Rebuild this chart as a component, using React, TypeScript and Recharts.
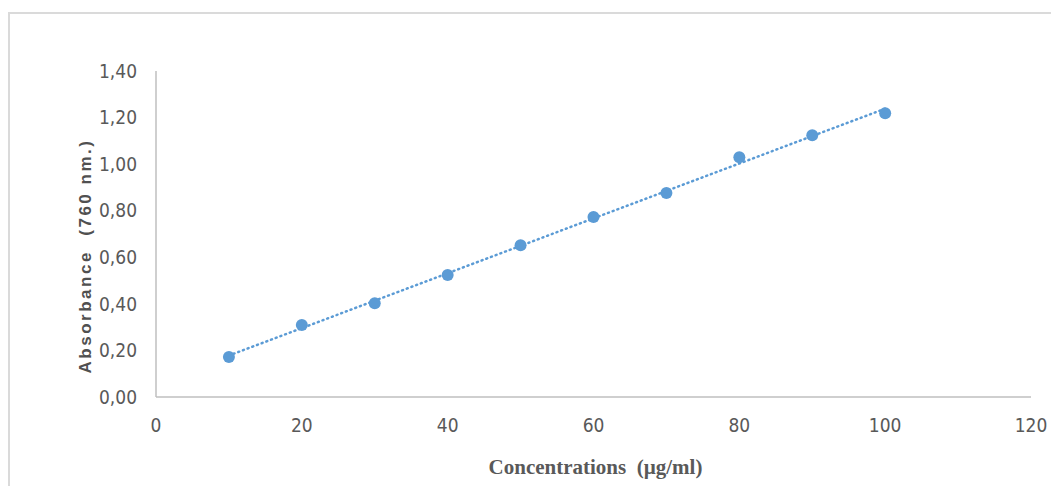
import React from 'react';
import { ComposedChart, Scatter, XAxis, YAxis, ReferenceLine, Label } from 'recharts';

const concentrations = [10, 20, 30, 40, 50, 60, 70, 80, 90, 100];
const absorbance = [0.172, 0.309, 0.403, 0.524, 0.652, 0.773, 0.876, 1.03, 1.124, 1.219];
const xTicks = [0, 20, 40, 60, 80, 100, 120];
const yTicks = [0, 0.2, 0.4, 0.6, 0.8, 1.0, 1.2, 1.4];
const xTitle = 'Concentrations  (µg/ml)';
const yTitle = 'Absorbance  (760 nm.)';

const points = concentrations.map((x, i) => ({ x, y: absorbance[i] }));

// least-squares trendline derived from the data
const n = concentrations.length;
const mx = concentrations.reduce((a, b) => a + b, 0) / n;
const my = absorbance.reduce((a, b) => a + b, 0) / n;
let sxy = 0, sxx = 0;
for (let i = 0; i < n; i++) {
  sxy += (concentrations[i] - mx) * (absorbance[i] - my);
  sxx += (concentrations[i] - mx) ** 2;
}
const slope = sxy / sxx;
const intercept = my - slope * mx;
const x0 = concentrations[0];
const x1 = concentrations[n - 1];
const trend = [
  { x: x0, y: intercept + slope * x0 },
  { x: x1, y: intercept + slope * x1 },
];

const BLUE = '#5B9BD5';
const TICK_FONT = "'Liberation Sans Narrow', 'DejaVu Sans Condensed', 'Liberation Sans', sans-serif";

export default function App() {
  return (
    <div style={{ position: 'relative', width: 1051, height: 478 }}>
      <div
        style={{
          position: 'absolute',
          left: 0,
          top: 4,
          width: 1051,
          height: 474,
          borderTop: '2px solid #DADADA',
          borderLeft: '2px solid #DADADA',
          boxSizing: 'border-box',
        }}
      />
      <ComposedChart
        width={1051}
        height={478}
        margin={{ top: 63, right: 28, left: 88, bottom: 59 }}
        style={{ position: 'absolute', left: 0, top: 0 }}
      >
        <XAxis
          type="number"
          dataKey="x"
          domain={[0, 120]}
          ticks={xTicks}
          height={30}
          stroke="#BFBFBF"
          strokeWidth={1.5}
          tickLine={false}
          tickSize={0}
          tickMargin={22}
          tick={{ fill: '#595959', fontSize: 19, fontFamily: TICK_FONT }}
        >
          <Label
            content={(props: any) => {
              const vb = props.viewBox;
              return (
                <text
                  x={vb.x + vb.width / 2 + 2}
                  y={466}
                  textAnchor="middle"
                  fill="#595959"
                  fontSize={21}
                  fontWeight="bold"
                  fontFamily="'Liberation Serif', serif"
                  style={{ whiteSpace: 'pre' }}
                >
                  {xTitle}
                </text>
              );
            }}
          />
        </XAxis>
        <YAxis
          type="number"
          dataKey="y"
          domain={[0, 1.4]}
          ticks={yTicks}
          width={60}
          stroke="#BFBFBF"
          strokeWidth={1.5}
          tickLine={false}
          tickSize={0}
          tickMargin={19}
          tickFormatter={(v: number) => v.toFixed(2).replace('.', ',')}
          tick={{ fill: '#595959', fontSize: 19, fontFamily: TICK_FONT }}
        >
          <Label
            content={() => {
              const cx = 77;
              const cy = 248;
              return (
                <text
                  x={cx}
                  y={cy}
                  transform={`rotate(-90 ${cx} ${cy})`}
                  textAnchor="middle"
                  dominantBaseline="central"
                  fill="#505050"
                  fontSize={17}
                  fontWeight="bold"
                  letterSpacing={2.5}
                  fontFamily="'Liberation Sans', sans-serif"
                  style={{ whiteSpace: 'pre' }}
                >
                  {yTitle}
                </text>
              );
            }}
          />
        </YAxis>
        <ReferenceLine
          segment={trend}
          stroke={BLUE}
          strokeWidth={2.5}
          strokeDasharray="1 4"
          strokeLinecap="round"
          ifOverflow="visible"
        />
        <Scatter
          data={points}
          fill={BLUE}
          isAnimationActive={false}
          shape={(p: any) => <circle cx={p.cx} cy={p.cy} r={6} fill={BLUE} />}
        />
      </ComposedChart>
    </div>
  );
}
